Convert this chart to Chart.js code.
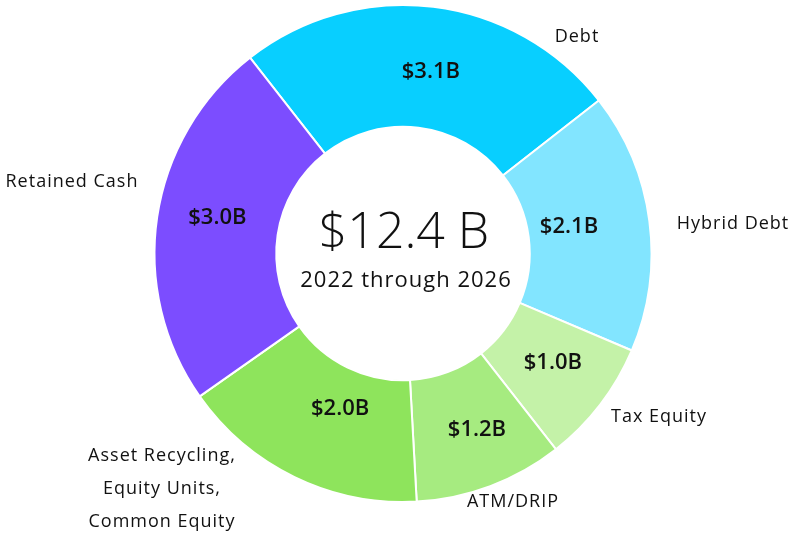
<!DOCTYPE html>
<html>
<head>
<meta charset="utf-8">
<script src="https://cdn.jsdelivr.net/npm/chart.js@4.4.0/dist/chart.umd.min.js"></script>
<style>
  html, body { margin: 0; padding: 0; background: #fff; }
  #wrap { width: 793px; height: 538px; }
</style>
</head>
<body>
<div id="wrap"><canvas id="fundingChart"></canvas></div>
<script>
// funding sources, $B
const sources = ['Debt', 'Hybrid Debt', 'Tax Equity', 'ATM/DRIP', 'Asset Recycling,\nEquity Units,\nCommon Equity', 'Retained Cash'];
const amounts = [3.1, 2.1, 1.0, 1.2, 2.0, 3.0];
const colors = ['#08cfff', '#82e5ff', '#c4f2a8', '#a6eb80', '#8ee45c', '#7c4dff'];
const totalLabel = '$12.4 B';
const periodLabel = '2022 through 2026';

const FONT = '"Open Sans", sans-serif';

// outside labels: offset from chart centre
const nameOffsets = [[174, -217], [330, -30], [256, 163], [110, 248], [-241, 235], [-331, -72]];
// small nudges for the $ labels inside the ring
const valueNudge = [[5, 4], [-20, -2], [1, -5], [8, 1], [19, -14], [0, -8]];

const ringLabels = {
	id: 'ringLabels',
	afterDatasetsDraw(chart) {
		const ctx = chart.ctx;
		const arcs = chart.getDatasetMeta(0).data;
		const cx = arcs[0].x, cy = arcs[0].y;
		ctx.save();
		ctx.fillStyle = '#111';
		ctx.textAlign = 'center';
		ctx.textBaseline = 'middle';

		// values inside each slice
		ctx.font = '600 22px ' + FONT;
		ctx.letterSpacing = '0px';
		arcs.forEach(function(arc, i) {
			const p = arc.tooltipPosition();
			ctx.fillText('$' + amounts[i].toFixed(1) + 'B', p.x + valueNudge[i][0], p.y + valueNudge[i][1]);
		});

		// source names around the ring
		ctx.font = '18px ' + FONT;
		ctx.letterSpacing = '1px';
		sources.forEach(function(name, i) {
			const lines = name.split('\n');
			const lh = 33;
			const y0 = cy + nameOffsets[i][1] - (lines.length - 1) * lh / 2;
			lines.forEach(function(line, j) {
				ctx.fillText(line, cx + nameOffsets[i][0], y0 + j * lh);
			});
		});

		// total in the hole
		ctx.letterSpacing = '0px';
		ctx.font = '300 50px ' + FONT;
		ctx.fillText(totalLabel, cx + 1, cy - 20);
		ctx.letterSpacing = '1px';
		ctx.font = '22px ' + FONT;
		ctx.fillText(periodLabel, cx + 3, cy + 27);
		ctx.restore();
	}
};

new Chart(document.querySelector('#fundingChart'), {
	type: 'doughnut',
	data: {
		labels: sources,
		datasets: [{
			data: amounts,
			backgroundColor: colors,
			borderColor: '#ffffff',
			borderWidth: 2
		}]
	},
	options: {
		responsive: true,
		maintainAspectRatio: false,
		animation: false,
		rotation: -38,
		cutout: '51%',
		layout: {
			padding: { top: 4, bottom: 35, left: 13, right: 0 }
		},
		plugins: {
			legend: { display: false },
			tooltip: { enabled: false }
		}
	},
	plugins: [ringLabels]
});
</script>
</body>
</html>
